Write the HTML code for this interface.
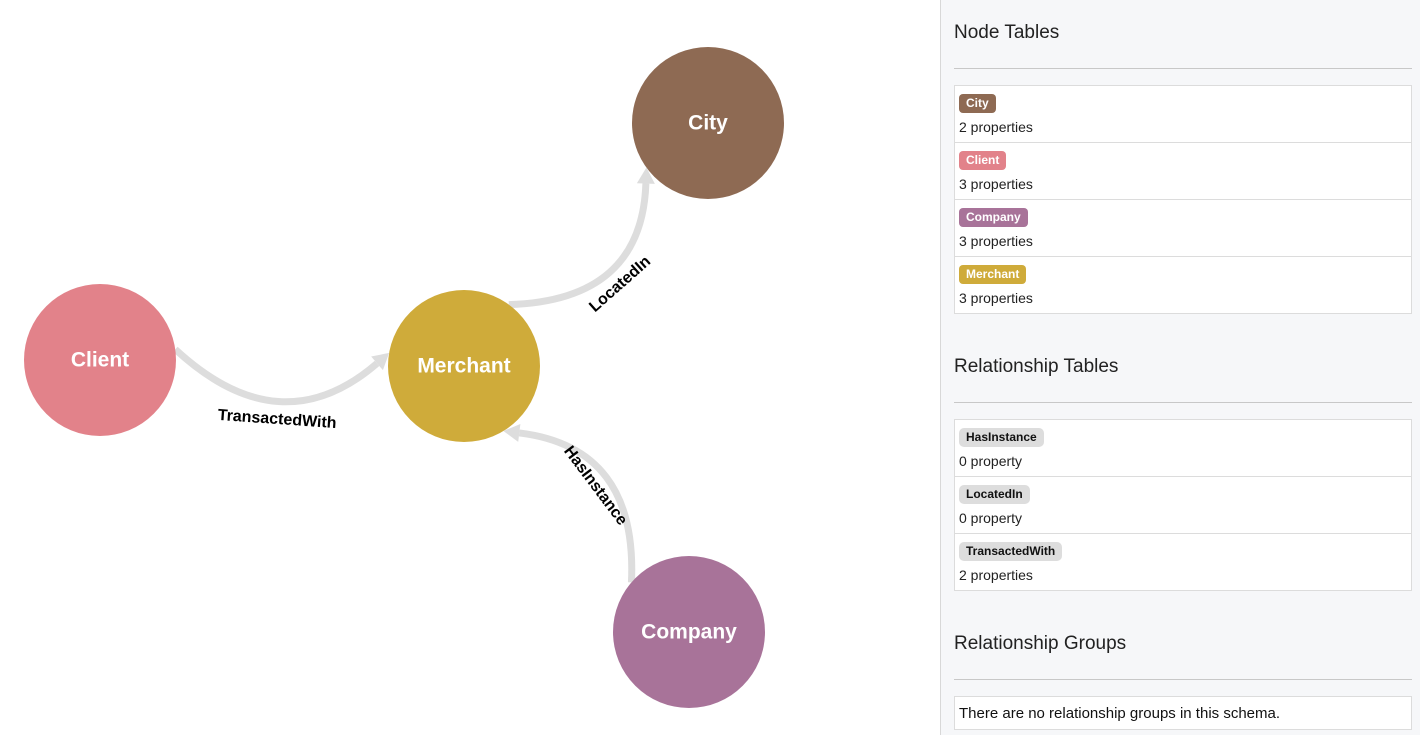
<!DOCTYPE html>
<html><head><meta charset="utf-8">
<style>
body{margin:0;width:1420px;height:735px;overflow:hidden;background:#fff;font-family:"Liberation Sans",sans-serif;position:relative}
#graph{position:absolute;left:0;top:0}
#side{position:absolute;left:940px;top:0;width:480px;height:735px;background:#f6f7f9;border-left:1px solid #d8d8d8;box-sizing:border-box}
.h{position:absolute;left:13px;font-size:19px;color:#222;line-height:22px}
.hr{position:absolute;left:13px;width:458px;height:1px;background:#c8c8c8}
.box{position:absolute;left:13px;width:458px;background:#fff;border:1px solid #dcdcdc;box-sizing:border-box}
.row{height:57px;border-bottom:1px solid #dcdcdc;box-sizing:border-box;position:relative}
.row:last-child{border-bottom:none}
.badge{position:absolute;left:4px;top:8px;height:19px;line-height:19px;padding:0 7px;border-radius:4px;font-size:12px;font-weight:bold;color:#fff}
.rel{background:#ddd;color:#111;border-radius:5px}
.cnt{position:absolute;left:4px;top:33px;font-size:14px;color:#222}
</style></head><body>
<svg id="graph" width="940" height="735"></svg>
<div id="side">
<div class="h" style="top:22px">Node Tables</div>
<div class="hr" style="top:68px"></div>
<div class="box" style="top:85px;height:229px">
<div class="row"><span class="badge" style="background:#8e6a53">City</span><span class="cnt">2 properties</span></div>
<div class="row"><span class="badge" style="background:#e2828a">Client</span><span class="cnt">3 properties</span></div>
<div class="row"><span class="badge" style="background:#a87399">Company</span><span class="cnt">3 properties</span></div>
<div class="row"><span class="badge" style="background:#cfab3a">Merchant</span><span class="cnt">3 properties</span></div>
</div>
<div class="h" style="top:356px">Relationship Tables</div>
<div class="hr" style="top:402px"></div>
<div class="box" style="top:419px;height:172px">
<div class="row"><span class="badge rel">HasInstance</span><span class="cnt">0 property</span></div>
<div class="row"><span class="badge rel">LocatedIn</span><span class="cnt">0 property</span></div>
<div class="row"><span class="badge rel">TransactedWith</span><span class="cnt">2 properties</span></div>
</div>
<div class="h" style="top:633px">Relationship Groups</div>
<div class="hr" style="top:679px"></div>
<div class="box" style="top:696px;height:34px"><span style="position:absolute;left:4px;top:8px;font-size:15px;color:#111">There are no relationship groups in this schema.</span></div>
</div>
<script>
const nodeNames=["City","Client","Merchant","Company"];
const nodeX=[708,100,464,689];
const nodeY=[123,360,366,632];
const nodeColors=["#8e6a53","#e2828a","#cfab3a","#a87399"];
const edgeNames=["TransactedWith","LocatedIn","HasInstance"];
const edgeFrom=[1,2,3];
const edgeTo=[2,0,2];
const R=76;
const NS="http://www.w3.org/2000/svg";
const svg=document.getElementById('graph');
function mk(t,a){const e=document.createElementNS(NS,t);for(const k in a)e.setAttribute(k,a[k]);return e;}
const CURV=0.23, ROT=9*Math.PI/180;
const labelOff=[18,16,14];
for(let i=0;i<edgeNames.length;i++){
  const a=edgeFrom[i],b=edgeTo[i];
  const x1=nodeX[a],y1=nodeY[a],x2=nodeX[b],y2=nodeY[b];
  const dx=x2-x1,dy=y2-y1,L=Math.hypot(dx,dy);
  const nx=-dy/L,ny=dx/L;
  const mx=(x1+x2)/2,my=(y1+y2)/2;
  const cx=mx+nx*L*CURV,cy=my+ny*L*CURV;
  const ca=Math.atan2(dy,dx);
  const sa=ca-ROT, ea=ca+Math.PI+ROT;
  const s=[x1+Math.cos(sa)*R,y1+Math.sin(sa)*R];
  const tip=[x2+Math.cos(ea)*R,y2+Math.sin(ea)*R];
  const ang=Math.atan2(tip[1]-cy,tip[0]-cx);
  const bx=tip[0]-Math.cos(ang)*16,by=tip[1]-Math.sin(ang)*16;
  const p=mk('path',{d:`M${s[0]},${s[1]} Q${cx},${cy} ${bx},${by}`,fill:'none',stroke:'#dddddd','stroke-width':7});
  
  
  svg.appendChild(p);
  const ox=-Math.sin(ang)*9,oy=Math.cos(ang)*9;
  const ar=mk('polygon',{points:`${tip[0]},${tip[1]} ${bx+ox},${by+oy} ${bx-ox},${by-oy}`,fill:'#dddddd'});
  
  
  svg.appendChild(ar);
  const qx=0.25*s[0]+0.5*cx+0.25*bx,qy=0.25*s[1]+0.5*cy+0.25*by;
  let tang=Math.atan2(by-s[1],bx-s[0])*180/Math.PI;
  if(tang>90)tang-=180;if(tang<-90)tang+=180;
  const tr=tang*Math.PI/180;
  const lx=qx-Math.sin(tr)*labelOff[i],ly=qy+Math.cos(tr)*labelOff[i];
  const t=mk('text',{x:lx,y:ly,'text-anchor':'middle','dominant-baseline':'central','font-size':16,'font-weight':'bold',fill:'#000','font-family':'Liberation Sans, sans-serif',transform:`rotate(${tang} ${lx} ${ly})`});
  t.textContent=edgeNames[i];
  
  
  svg.appendChild(t);
}
for(let i=0;i<nodeNames.length;i++){
  const c=mk('circle',{cx:nodeX[i],cy:nodeY[i],r:R,fill:nodeColors[i]});
  
  
  svg.appendChild(c);
  const t=mk('text',{x:nodeX[i],y:nodeY[i],'text-anchor':'middle','dominant-baseline':'central','font-size':21,'font-weight':'bold',fill:'#fff','font-family':'Liberation Sans, sans-serif'});
  t.textContent=nodeNames[i];
  
  
  svg.appendChild(t);
}
</script>
</body></html>
